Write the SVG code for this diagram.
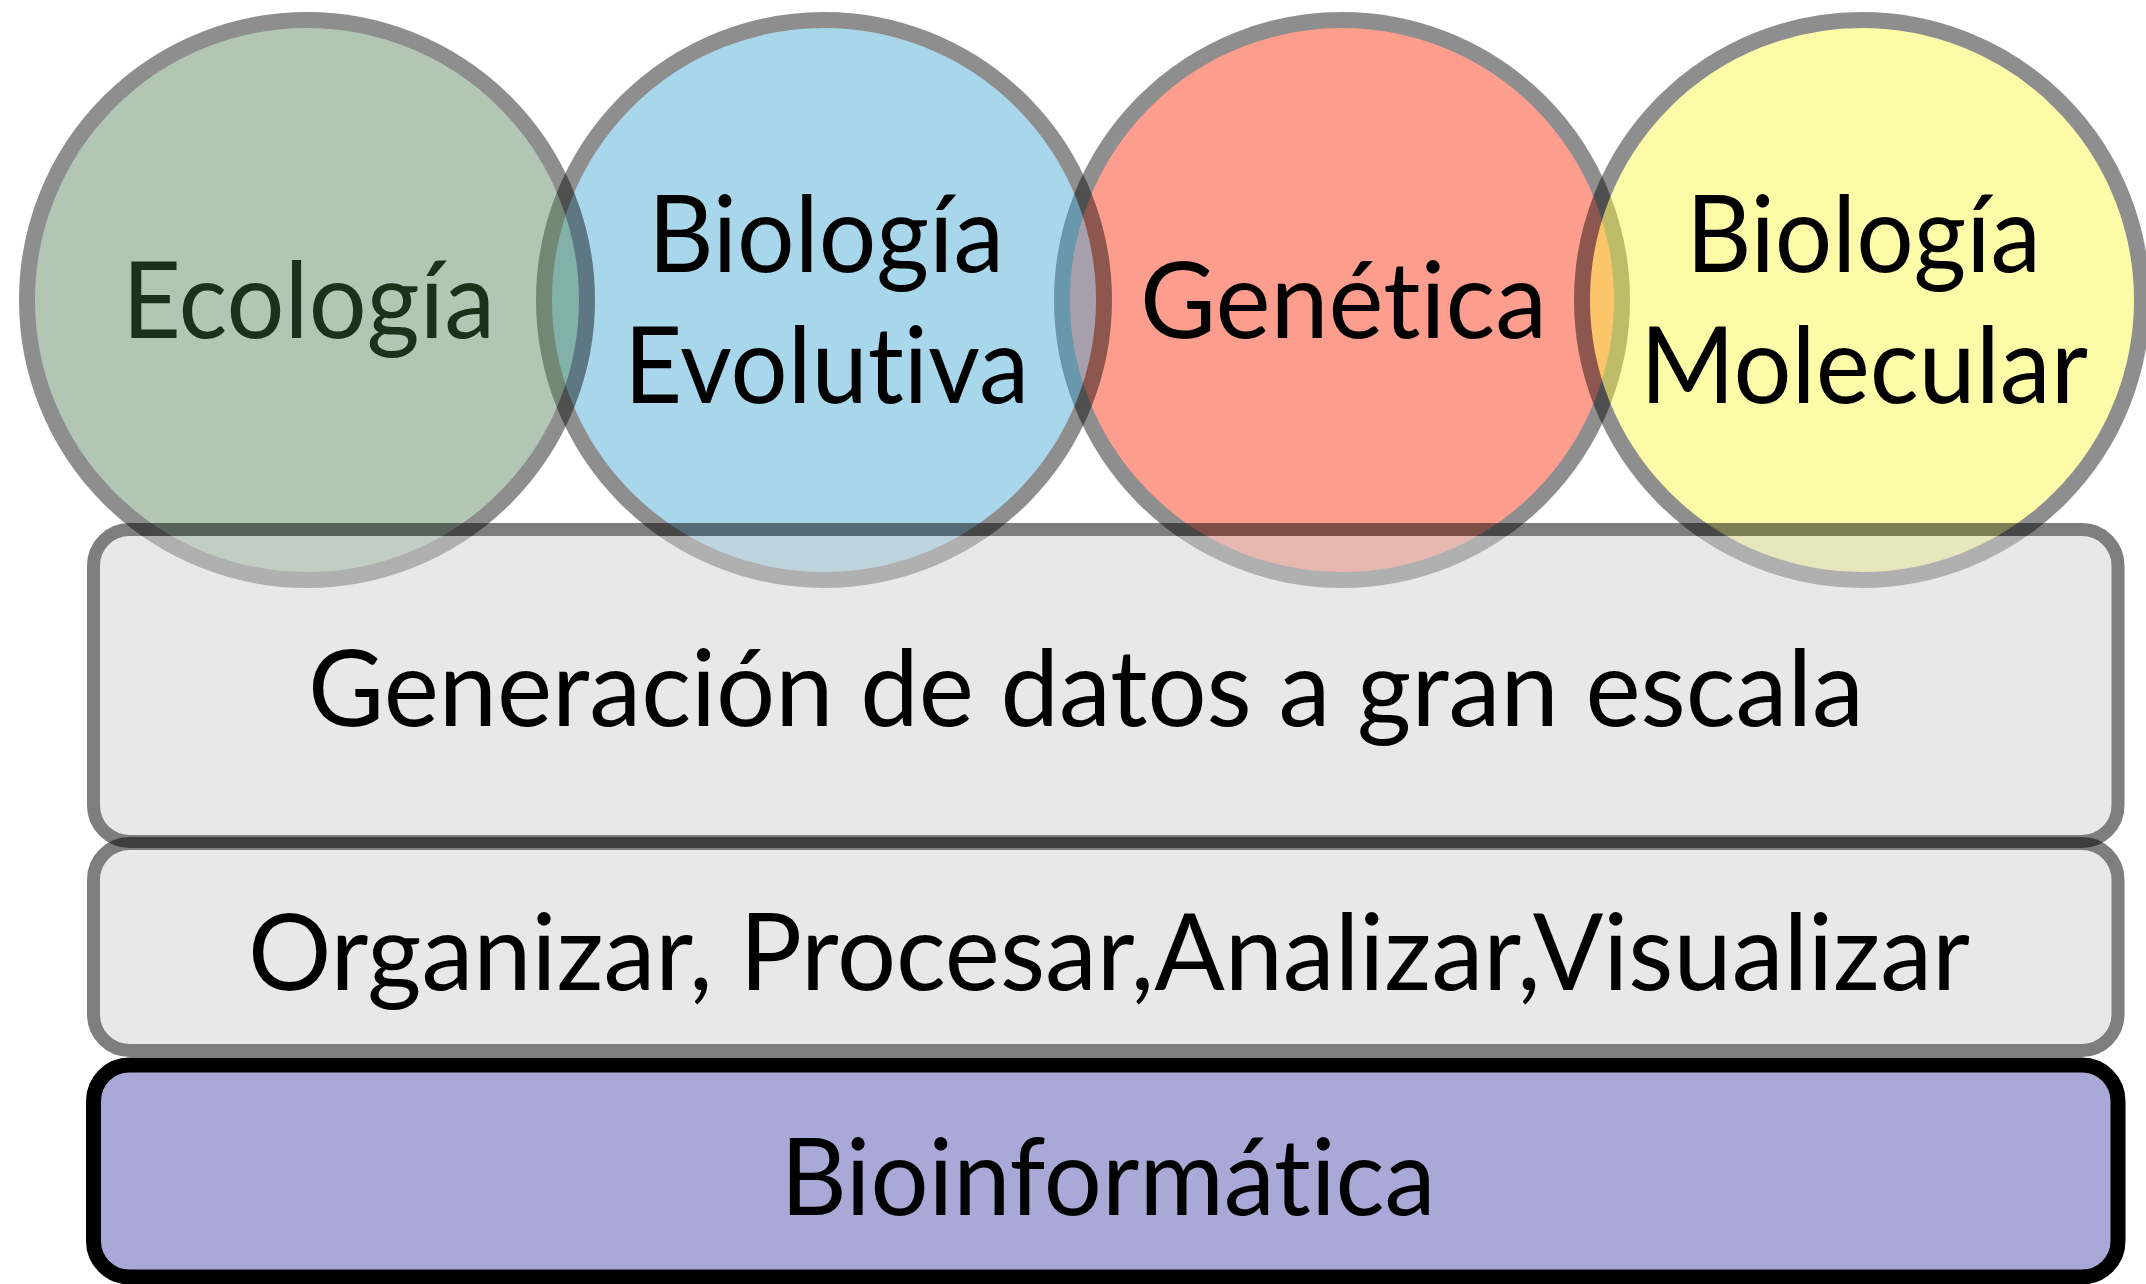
<svg xmlns="http://www.w3.org/2000/svg" width="2146" height="1284" viewBox="0 0 2146 1284">
<style>
.circ{opacity:0.44}
.circ circle{stroke:#000;stroke-width:16}
.layer{opacity:0.5}
.layer rect{fill:#d3d3d3;stroke:#000;stroke-width:13}
text{font-family:"Lato","Open Sans",sans-serif;font-size:107px;text-anchor:middle;fill:#000;font-variant-ligatures:none;font-feature-settings:"liga" 0,"clig" 0,"dlig" 0}
.eco{fill:#1b3119}
</style>
<rect x="0" y="0" width="2146" height="1284" fill="#fff"/>
<g id="genetica">
<g class="circ"><circle cx="1342" cy="300" r="280" fill="#fc2300"/></g>
<text x="1343.5" y="338" textLength="407" lengthAdjust="spacingAndGlyphs">Genética</text>
</g>
<g id="biologia-molecular">
<g class="circ"><circle cx="1862" cy="300" r="280" fill="#fcf83c"/></g>
<text x="1863.5" y="272" textLength="355" lengthAdjust="spacingAndGlyphs">Biología</text>
<text x="1864" y="403" textLength="448" lengthAdjust="spacingAndGlyphs">Molecular</text>
</g>
<g id="biologia-evolutiva">
<g class="circ"><circle cx="824" cy="300" r="280" fill="#3ba6d4"/></g>
<text x="826" y="272" textLength="356" lengthAdjust="spacingAndGlyphs">Biología</text>
<text x="826.5" y="403" textLength="405" lengthAdjust="spacingAndGlyphs">Evolutiva</text>
</g>
<g id="ecologia">
<g class="circ"><circle cx="307" cy="300" r="280" fill="#508254"/></g>
<text class="eco" x="308.5" y="338" textLength="373" lengthAdjust="spacingAndGlyphs">Ecología</text>
</g>
<g id="generacion">
<g class="layer"><rect x="93.5" y="529.5" width="2024.5" height="312" rx="36"/></g>
<text x="1086" y="726" textLength="1556" lengthAdjust="spacingAndGlyphs">Generación de datos a gran escala</text>
</g>
<g id="organizar">
<g class="layer"><rect x="93.5" y="843.5" width="2024.5" height="207" rx="36"/></g>
<text x="1109" y="990" textLength="1722" lengthAdjust="spacingAndGlyphs">Organizar, Procesar,Analizar,Visualizar</text>
</g>
<g id="bioinformatica">
<rect x="93.5" y="1065" width="2024.5" height="212" rx="36" fill="#a8a9d6" stroke="#000" stroke-width="15"/>
<text x="1108" y="1215" textLength="655" lengthAdjust="spacingAndGlyphs">Bioinformática</text>
</g>
<g id="connectors"/>
</svg>
